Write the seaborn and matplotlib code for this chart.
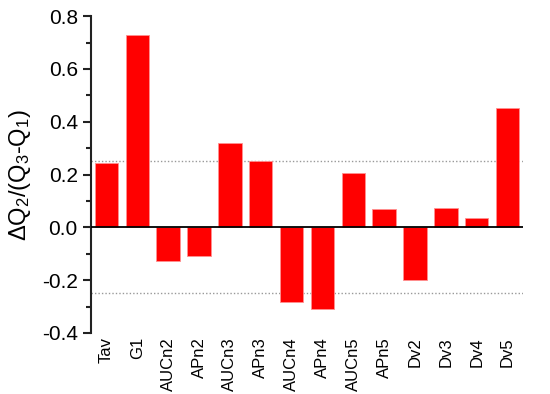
import pandas as pd
import seaborn as sns
import matplotlib.pyplot as plt
from matplotlib.ticker import MultipleLocator

# values
labels = ["Tav", "G1", "AUCn2", "APn2", "AUCn3", "APn3", "AUCn4",
          "APn4", "AUCn5", "APn5", "Dv2", "Dv3", "Dv4", "Dv5"]
values = [0.242, 0.728, -0.129, -0.109, 0.318, 0.251, -0.282,
          -0.311, 0.207, 0.071, -0.201, 0.072, 0.035, 0.451]
thresholds = [0.25, -0.25]

df = pd.DataFrame({"name": labels, "dq": values})

sns.set_style("white")
plt.rcParams["font.family"] = ["Liberation Sans", "DejaVu Sans"]
plt.rcParams["mathtext.fontset"] = "custom"
plt.rcParams["mathtext.rm"] = "Liberation Sans"
plt.rcParams["mathtext.it"] = "Liberation Sans"
plt.rcParams["text.color"] = "black"
plt.rcParams["axes.labelcolor"] = "black"
plt.rcParams["xtick.color"] = "black"
plt.rcParams["ytick.color"] = "black"

fig = plt.figure(figsize=(5.5, 3.94), dpi=100)
ax = fig.add_axes([0.1655, 0.155, 0.7855, 0.804])

sns.barplot(data=df, x="name", y="dq", color="red", saturation=1,
            width=0.76, edgecolor="#ff9090", linewidth=0.6, ax=ax)

# reference lines
ax.axhline(0, color="black", lw=1.3, zorder=3)
for t in thresholds:
    ax.axhline(t, color="#999999", lw=1, ls=(0, (1, 1.5)), zorder=0)

ax.set_xlim(-0.5, 13.5)
ax.set_ylim(-0.4, 0.8)
ax.yaxis.set_minor_locator(MultipleLocator(0.1))
ax.set_yticks([-0.4, -0.2, 0.0, 0.2, 0.4, 0.6, 0.8])
ax.set_yticklabels(["-0.4", "-0.2", "0.0", "0.2", "0.4", "0.6", "0.8"])

for s in ["top", "right", "bottom"]:
    ax.spines[s].set_visible(False)
ax.spines["left"].set_linewidth(1.5)
ax.spines["left"].set_color("#222222")

ax.tick_params(axis="y", which="major", direction="out", length=6, width=1.5,
               labelsize=15, left=True, color="#222222")
ax.tick_params(axis="y", which="minor", direction="out", length=3.5, width=1.5,
               left=True, color="#222222")
ax.tick_params(axis="x", length=0, labelsize=12, rotation=90, pad=3)

ax.set_xlabel("")
ax.set_ylabel(r"$\Delta$Q$_2$/(Q$_3$-Q$_1$)", fontsize=17, labelpad=6)

plt.savefig("out.png", dpi=100)
